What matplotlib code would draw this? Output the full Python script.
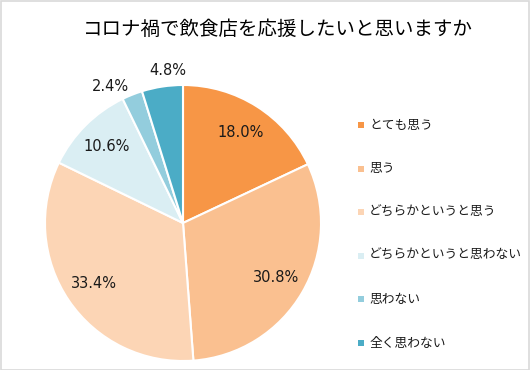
import numpy as np
import matplotlib
matplotlib.use('Agg')
import matplotlib.pyplot as plt
from matplotlib.patches import Rectangle

plt.rcParams['font.family'] = ['Noto Sans CJK JP', 'DejaVu Sans']

title = 'コロナ禍で飲食店を応援したいと思いますか'
labels = ['とても思う', '思う', 'どちらかというと思う', 'どちらかというと思わない', '思わない', '全く思わない']
values = [18.0, 30.8, 33.4, 10.6, 2.4, 4.8]
colors = ['#F79646', '#FAC090', '#FCD5B5', '#DAEEF3', '#93CDDD', '#4BACC6']

W, H = 530, 370
fig = plt.figure(figsize=(W / 100, H / 100), dpi=100)

# pie: center (183, 223) px, radius 138 px
cx, cy, r = 183, 223, 138
ax = fig.add_axes([(cx - r) / W, (H - cy - r) / H, 2 * r / W, 2 * r / H])
wedges, _ = ax.pie(values, colors=colors, startangle=90, counterclock=False,
                   radius=1, wedgeprops=dict(edgecolor='white', linewidth=1.5))
ax.set_xlim(-1, 1)
ax.set_ylim(-1, 1)
ax.set_aspect('equal')
ax.axis('off')

# percentage labels (outside ones nudged a bit like excel does)
nudge = [(0, 0), (0, 0), (0, 0), (0, 0), (-11, -5), (6, 0)]
start = 90.0
for v, (nx, ny) in zip(values, nudge):
    mid = np.deg2rad(start - v * 3.6 / 2)
    dist = 0.78 if v > 5 else 1.12
    ax.annotate(f'{v:.1f}%', (dist * np.cos(mid), dist * np.sin(mid)),
                xytext=(nx, ny), textcoords='offset points',
                ha='center', va='center', fontsize=10.5, color='#1a1a1a',
                family='DejaVu Sans', annotation_clip=False)
    start -= v * 3.6

fig.text(278 / W, 1 - 29 / H, title, ha='center', va='center', fontsize=14, color='black')

# legend
for i, (lab, col) in enumerate(zip(labels, colors)):
    y = 1 - (125 + i * 43.6) / H
    fig.patches.append(Rectangle((358 / W, y - 3 / H), 6 / W, 6 / H,
                                 transform=fig.transFigure, facecolor=col, edgecolor='none'))
    fig.text(369 / W, y, lab, ha='left', va='center', fontsize=9.2, color='#1a1a1a')

# outer border
fig.patches.append(Rectangle((0.5 / W, 0.5 / H), 1 - 1.5 / W, 1 - 1.5 / H,
                             transform=fig.transFigure, facecolor='none',
                             edgecolor='#D9D9D9', linewidth=1.2))

fig.savefig('out.png', dpi=100)
